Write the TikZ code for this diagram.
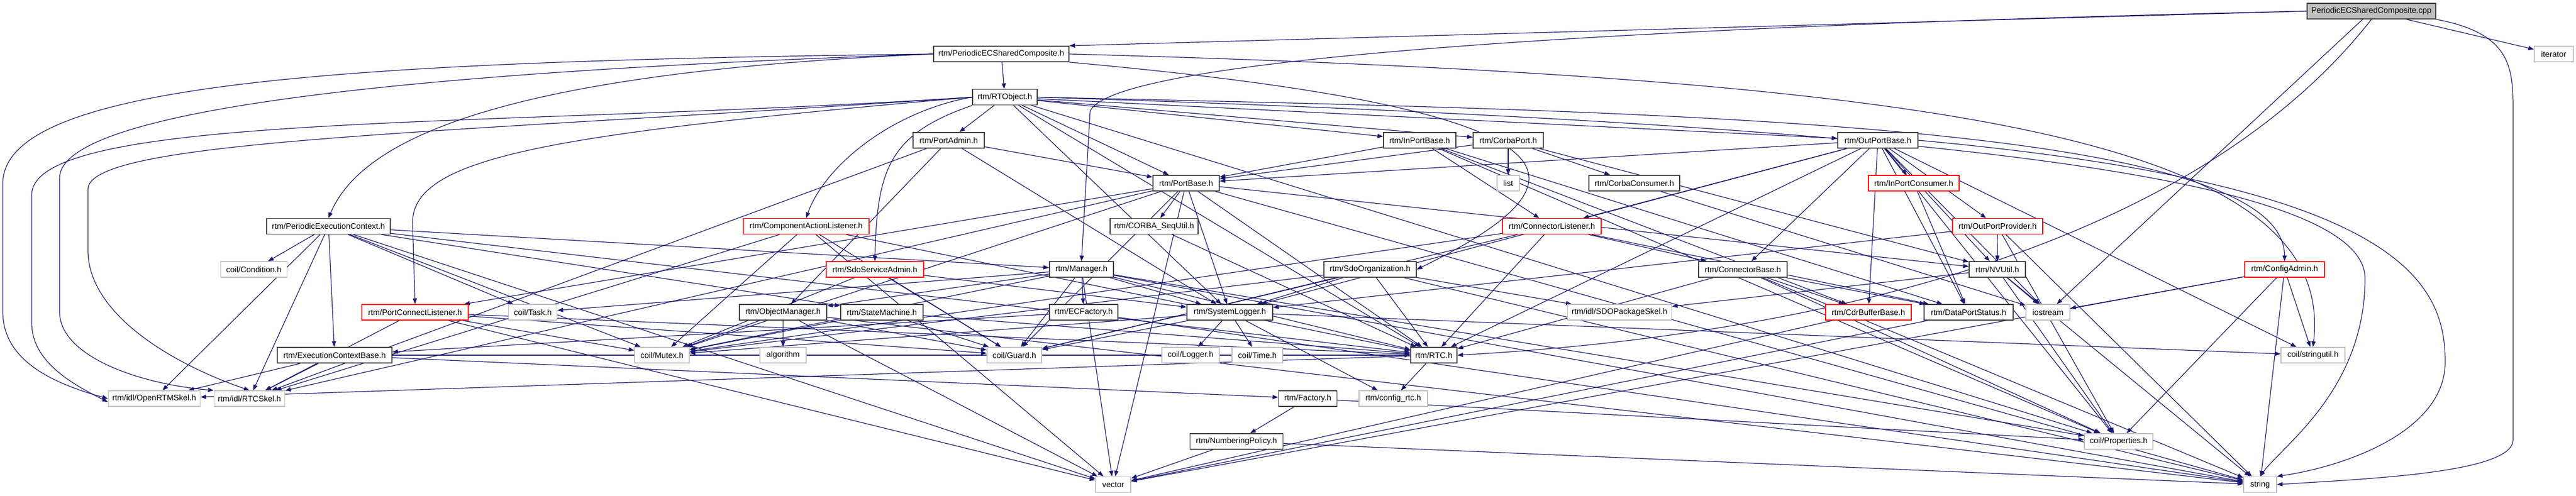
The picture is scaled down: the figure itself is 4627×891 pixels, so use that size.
\documentclass[tikz,border=0pt]{standalone}
\usepackage{fontspec}
\setmainfont{Liberation Sans}
\usetikzlibrary{arrows.meta}
\definecolor{edgec}{HTML}{191970}
\definecolor{boxgray}{HTML}{BFBFBF}
\definecolor{boxdark}{HTML}{404040}
\pgfdeclarelayer{edgelayer}
\pgfsetlayers{edgelayer,main}
\tikzset{
  box/.style={draw=boxdark, line width=1.6pt, fill=white, minimum height=28pt, inner sep=0pt,
              font=\fontsize{14.5pt}{17pt}\selectfont, text=black},
  sysbox/.style={box, draw=boxgray},
  redbox/.style={box, draw=red},
  rootbox/.style={box, fill=boxgray},
  edge/.style={draw=edgec, line width=1.2pt, -{Triangle[length=10pt,width=7.5pt]}},
}
\begin{document}
\begin{tikzpicture}[x=1pt,y=-1pt]
\useasboundingbox (0,0) rectangle (4627,891);
% nodes
\node[rootbox, minimum width=231pt] (cpp) at (4259.5,20) {PeriodicECSharedComposite.cpp};
\node[sysbox, minimum width=70pt] (iter) at (4587,97) {iterator};
\node[box, minimum width=243pt] (pecsc) at (1798.5,97) {rtm/PeriodicECSharedComposite.h};
\node[box, minimum width=116pt] (rto) at (1805,174.5) {rtm/RTObject.h};
\node[box, minimum width=128pt] (padm) at (1704,252) {rtm/PortAdmin.h};
\node[box, minimum width=130pt] (inpb) at (2550,252) {rtm/InPortBase.h};
\node[box, minimum width=126pt] (cport) at (2709,252) {rtm/CorbaPort.h};
\node[box, minimum width=144pt] (outpb) at (3373,252) {rtm/OutPortBase.h};
\node[box, minimum width=119pt] (pbase) at (2130.5,329) {rtm/PortBase.h};
\node[sysbox, minimum width=40pt] (list) at (2709,329) {list};
\node[box, minimum width=163pt] (ccons) at (2935.5,329) {rtm/CorbaConsumer.h};
\node[redbox, minimum width=163pt] (ipcons) at (3437.5,329) {rtm/InPortConsumer.h};
\node[box, minimum width=222pt] (pec) at (590,406.5) {rtm/PeriodicExecutionContext.h};
\node[redbox, minimum width=226pt] (cal) at (1448,406.5) {rtm/ComponentActionListener.h};
\node[box, minimum width=158pt] (cseq) at (2073,406.5) {rtm/CORBA\_SeqUtil.h};
\node[redbox, minimum width=177pt] (clis) at (2787.5,406.5) {rtm/ConnectorListener.h};
\node[redbox, minimum width=162pt] (opprov) at (3588,406.5) {rtm/OutPortProvider.h};
\node[sysbox, minimum width=119pt] (cond) at (456,484) {coil/Condition.h};
\node[redbox, minimum width=175pt] (sdosa) at (1571.5,484) {rtm/SdoServiceAdmin.h};
\node[box, minimum width=115pt] (mgr) at (1942.5,484) {rtm/Manager.h};
\node[box, minimum width=166pt] (sdoorg) at (2461,484) {rtm/SdoOrganization.h};
\node[box, minimum width=159pt] (cbase) at (3130.5,484) {rtm/ConnectorBase.h};
\node[box, minimum width=101pt] (nvutil) at (3587.5,484) {rtm/NVUtil.h};
\node[redbox, minimum width=143pt] (cfg) at (4103.5,484) {rtm/ConfigAdmin.h};
\node[redbox, minimum width=191pt] (pcl) at (745.5,561) {rtm/PortConnectListener.h};
\node[sysbox, minimum width=87pt] (task) at (957,561) {coil/Task.h};
\node[box, minimum width=157pt] (objm) at (1406.5,561) {rtm/ObjectManager.h};
\node[box, minimum width=148pt] (stm) at (1584,561) {rtm/StateMachine.h};
\node[box, minimum width=123pt] (ecf) at (1946.5,561) {rtm/ECFactory.h};
\node[box, minimum width=154pt] (slog) at (2209,561) {rtm/SystemLogger.h};
\node[sysbox, minimum width=187pt] (sdopk) at (2909,561) {rtm/idl/SDOPackageSkel.h};
\node[redbox, minimum width=154pt] (cdrbb) at (3356,561) {rtm/CdrBufferBase.h};
\node[box, minimum width=160pt] (dps) at (3536,561) {rtm/DataPortStatus.h};
\node[sysbox, minimum width=79pt] (ios) at (3678.5,561) {iostream};
\node[box, minimum width=206pt] (ecb) at (601,638) {rtm/ExecutionContextBase.h};
\node[sysbox, minimum width=98pt] (mutex) at (1189,638) {coil/Mutex.h};
\node[sysbox, minimum width=83pt] (algo) at (1406.5,638) {algorithm};
\node[sysbox, minimum width=98pt] (guard) at (1822,638) {coil/Guard.h};
\node[sysbox, minimum width=103pt] (clog) at (2138.5,638) {coil/Logger.h};
\node[sysbox, minimum width=91pt] (ctime) at (2258.5,638) {coil/Time.h};
\node[box, minimum width=83pt] (rtc) at (2575.5,638) {rtm/RTC.h};
\node[sysbox, minimum width=115pt] (strutil) at (4154.5,638) {coil/stringutil.h};
\node[sysbox, minimum width=165pt] (ortm) at (277,716) {rtm/idl/OpenRTMSkel.h};
\node[sysbox, minimum width=127pt] (rtcskel) at (448,716) {rtm/idl/RTCSkel.h};
\node[box, minimum width=105pt] (fact) at (2349,716) {rtm/Factory.h};
\node[sysbox, minimum width=123pt] (cfgrtc) at (2502.5,716) {rtm/config\_rtc.h};
\node[box, minimum width=167pt] (numpol) at (2221,793) {rtm/NumberingPolicy.h};
\node[sysbox, minimum width=123pt] (props) at (3805.5,793) {coil/Properties.h};
\node[sysbox, minimum width=63pt] (vector) at (1999.5,870.5) {vector};
\node[sysbox, minimum width=59pt] (string) at (4059.5,870.5) {string};

\begin{pgfonlayer}{edgelayer}
% curved edges
\draw[edge] (cpp.west) -- (pecsc.north east);
\draw[edge] (cpp.west) .. controls (3000,45) and (2000,100) .. (1958,200) -- (mgr.north);
\draw[edge] (cpp.south east) .. controls (4510,60) and (4514,120) .. (4514,200) -- (4514,790) .. controls (4514,850) and (4250,860) .. (string.east);
\draw[edge] (cpp.south) .. controls (3950,430) and (3300,600) .. (rtc.east);
\draw[edge] (pecsc.west) .. controls (600,110) and (5,150) .. (5,330) -- (5,560) .. controls (5,650) and (100,690) .. (ortm.west);
\draw[edge] (pecsc.west) .. controls (700,130) and (107,200) .. (107,320) -- (107,560) .. controls (107,640) and (250,690) .. (rtcskel.north west);
\draw[edge] (pecsc.west) .. controls (900,130) and (650,250) .. (pec.north);
\draw[edge] (pecsc.east) .. controls (3500,140) and (4198,250) .. (strutil.north);
\draw[edge] (pecsc.south east) .. controls (2900,200) and (2860,330) .. (sdoorg.east);
\draw[edge] (rto.west) .. controls (900,230) and (57,200) .. (57,350) -- (57,580) .. controls (57,650) and (130,690) .. ([yshift=-6pt]ortm.west);
\draw[edge] (rto.west) .. controls (800,240) and (158,250) .. (158,340) -- (158,450) .. controls (158,560) and (300,650) .. (rtcskel.north);
\draw[edge] (rto.west) .. controls (1600,200) and (1480,300) .. (cal.north);
\draw[edge] (rto.west) .. controls (1000,240) and (741,280) .. (741,400) -- (pcl.north);
\draw[edge] (rto.south west) .. controls (1600,240) and (1575,300) .. (sdosa.north);
\draw[edge] (rto.east) .. controls (3000,200) and (4103,220) .. (cfg.north);
\draw[edge] (rto.east) .. controls (3300,220) and (4248,300) .. (4248,500) .. controls (4248,700) and (4100,800) .. (string.north);
\draw[edge] (outpb.east) .. controls (4300,330) and (4392,500) .. (4392,650) .. controls (4392,780) and (4200,840) .. (string.north east);

% straight edges
\foreach \a/\b in {cpp/iter, cpp/ios,
  pecsc/rto,
  rto/padm, rto/pbase, rto/inpb, rto/cport, rto/outpb, rto/slog, rto/rtc, rto/props,
  padm/pbase, padm/objm, padm/slog, padm/rtcskel,
  pbase/cseq, pbase/rtc, pbase/slog, pbase/nvutil, pbase/pcl, pbase/guard, pbase/mutex, pbase/rtcskel, pbase/string, pbase/vector,
  inpb/pbase, inpb/dps, inpb/cdrbb, inpb/clis, inpb/props,
  cport/pbase, cport/list, cport/ccons, cport/nvutil,
  outpb/pbase, outpb/ipcons, outpb/opprov, outpb/cbase, outpb/cdrbb, outpb/dps, outpb/clis, outpb/nvutil, outpb/ios, outpb/props, outpb/strutil, outpb/slog, outpb/rtc,
  ccons/ios, ipcons/dps,
  opprov/nvutil, opprov/props, opprov/slog, opprov/string,
  cal/rtc, cal/mutex, cal/guard, cal/vector, cal/rtcskel,
  pcl/rtc, pcl/mutex, pcl/guard, pcl/vector, pcl/rtcskel,
  pec/cond, pec/task, pec/mutex, pec/ecb, pec/rtcskel, pec/ortm, pec/vector, pec/rtc, pec/mgr, pec/stm,
  clis/rtc, clis/cbase, clis/mutex, clis/guard, clis/dps,
  cseq/rtc,
  cfg/ios, cfg/props, cfg/vector, cfg/strutil, cfg/string,
  sdosa/mutex, sdosa/guard, sdosa/slog,
  mgr/objm, mgr/slog, mgr/ecf, mgr/guard, mgr/mutex, mgr/vector, mgr/rtc, mgr/props, mgr/string, mgr/task,
  sdoorg/sdopk, sdoorg/rtc, sdoorg/slog, sdoorg/mutex, sdoorg/guard, sdoorg/string,
  cbase/cdrbb, cbase/dps, cbase/props, cbase/rtc, cbase/string,
  nvutil/sdopk, nvutil/ios, nvutil/props, nvutil/string,
  objm/mutex, objm/algo, objm/guard, objm/vector, objm/string,
  stm/mutex, stm/guard, stm/rtc,
  ecf/ecb, ecf/string,
  slog/guard, slog/clog, slog/ctime, slog/cfgrtc, slog/strutil, slog/mutex,
  cdrbb/vector, dps/vector,
  ecb/rtc, ecb/ortm, ecb/rtcskel, ecb/fact,
  rtc/cfgrtc, rtc/ortm,
  fact/numpol, fact/props,
  numpol/vector, numpol/string}
  \draw[edge] (\a) -- (\b);
\end{pgfonlayer}
\end{tikzpicture}
\end{document}
